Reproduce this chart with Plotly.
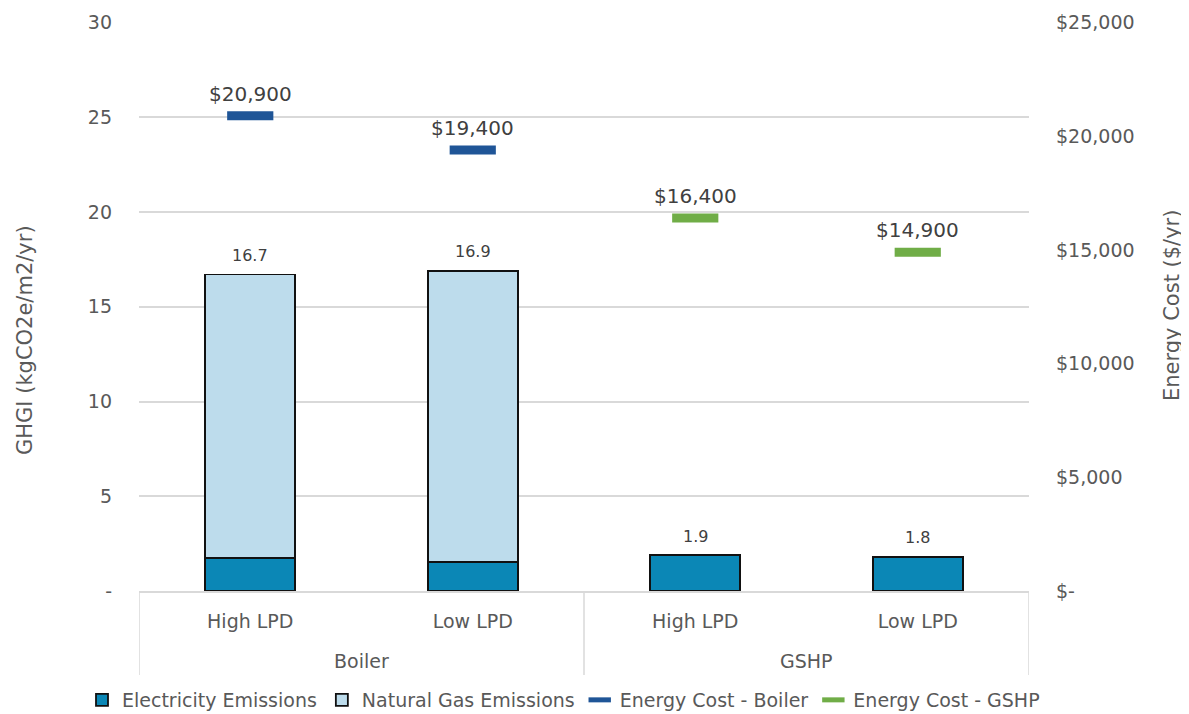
import plotly.graph_objects as go

groups = ["Boiler", "Boiler", "GSHP", "GSHP"]
cases = ["High LPD", "Low LPD", "High LPD", "Low LPD"]
elec = [1.75, 1.55, 1.9, 1.8]
gas = [14.95, 15.35, 0, 0]
cost_boiler = [20900, 19400, None, None]
cost_gshp = [None, None, 16400, 14900]

left_ticks = [0, 5, 10, 15, 20, 25, 30]
left_text = ["-", "5", "10", "15", "20", "25", "30"]
right_ticks = [0, 5000, 10000, 15000, 20000, 25000]
right_text = ["$-", "$5,000", "$10,000", "$15,000", "$20,000", "$25,000"]

FONT = "DejaVu Sans"
GREY = "#595959"
DARK = "#404040"
LINEC = "#d9d9d9"

W, H = 1189, 714
OFF = 8  # page body margin offset
# desired page-pixel plot box
P_LEFT, P_RIGHT, P_TOP, P_BOT = 139, 1029, 22, 591
ML = P_LEFT - OFF
MR = W - (P_RIGHT - OFF)
MT = P_TOP - OFF
MB = H - (P_BOT - OFF)
PW = P_RIGHT - P_LEFT
PH = P_BOT - P_TOP


def py(page_y):
    return (P_BOT - page_y) / PH


def px(page_x):
    return (page_x - P_LEFT) / PW


xs = list(range(len(cases)))
totals = [round(e + g, 1) for e, g in zip(elec, gas)]

fig = go.Figure()
fig.add_trace(go.Bar(x=xs, y=elec, name="Electricity Emissions",
                     marker=dict(color="#0b87b6", line=dict(color="#111111", width=1.8)),
                     width=0.405))
fig.add_trace(go.Bar(x=xs, y=gas, name="Natural Gas Emissions",
                     marker=dict(color="#bddcec", line=dict(color="#111111", width=1.8)),
                     width=0.405))
fig.add_trace(go.Scatter(x=xs, y=cost_boiler, yaxis="y2", mode="markers",
                         name="Energy Cost - Boiler",
                         marker=dict(symbol="line-ew", size=33, color="#1f5597",
                                     line=dict(color="#1f5597", width=9))))
fig.add_trace(go.Scatter(x=xs, y=cost_gshp, yaxis="y2", mode="markers",
                         name="Energy Cost - GSHP",
                         marker=dict(symbol="line-ew", size=33, color="#70ad47",
                                     line=dict(color="#70ad47", width=9))))

annotations = []
for i, t in zip(xs, totals):
    annotations.append(dict(x=i, y=t, xref="x", yref="y", text=f"{t:.1f}", showarrow=False,
                            yanchor="middle", yshift=19,
                            font=dict(family=FONT, size=16, color=DARK)))
for c in (cost_boiler, cost_gshp):
    for i, v in zip(xs, c):
        if v is None:
            continue
        annotations.append(dict(x=i, y=v, xref="x", yref="y2", text=f"${v:,.0f}",
                                showarrow=False, yanchor="middle", yshift=22,
                                font=dict(family=FONT, size=20, color=DARK)))

# group labels and dividers
shapes = []
bounds = [-0.5]
for i in range(1, len(groups)):
    if groups[i] != groups[i - 1]:
        bounds.append(i - 0.5)
bounds.append(len(groups) - 0.5)
for b in bounds:
    shapes.append(dict(type="line", xref="x", yref="paper", x0=b, x1=b, y0=0, y1=py(675),
                       line=dict(color=LINEC, width=1.5)))
for k in range(len(bounds) - 1):
    mid = (bounds[k] + bounds[k + 1]) / 2
    g = groups[int(bounds[k] + 0.5)]
    annotations.append(dict(x=mid, y=py(661), xref="x", yref="paper",
                            text=g, showarrow=False, yanchor="middle",
                            font=dict(family=FONT, size=19, color=GREY)))

# axis titles
annotations.append(dict(x=px(25), y=py(340), xref="paper", yref="paper",
                        text="GHGI (kgCO2e/m2/yr)", textangle=-90,
                        showarrow=False, xanchor="center", yanchor="middle",
                        font=dict(family=FONT, size=21, color=GREY)))
annotations.append(dict(x=px(1172), y=py(306), xref="paper", yref="paper",
                        text="Energy Cost ($/yr)", textangle=-90,
                        showarrow=False, xanchor="center", yanchor="middle",
                        font=dict(family=FONT, size=21, color=GREY)))

fig.update_layout(
    width=W, height=H,
    margin=dict(l=ML, r=MR, t=MT, b=MB, autoexpand=False),
    paper_bgcolor="white", plot_bgcolor="white",
    barmode="stack",
    font=dict(family=FONT, size=19, color=GREY),
    xaxis=dict(range=[-0.5, len(cases) - 0.5], tickvals=xs, ticktext=cases,
               showline=True, linecolor=LINEC, linewidth=1.5, showgrid=False, zeroline=False,
               automargin=False, ticklabelstandoff=12, tickfont=dict(size=19, color=GREY)),
    yaxis=dict(range=[0, 30.03], tickvals=left_ticks, ticktext=left_text,
               showgrid=True, gridcolor=LINEC, gridwidth=1.5, zeroline=False,
               automargin=False, ticklabelstandoff=26, tickfont=dict(size=19, color=GREY)),
    yaxis2=dict(range=[0, 25025], tickvals=right_ticks, ticktext=right_text,
                overlaying="y", side="right", showgrid=False, zeroline=False,
                automargin=False, ticklabelstandoff=26, tickfont=dict(size=19, color=GREY)),
    legend=dict(orientation="h", xref="paper", x=px(82), xanchor="left",
                yref="paper", y=py(700), yanchor="middle",
                traceorder="normal", font=dict(size=19, color=GREY),
                itemwidth=30, tracegroupgap=0),
    showlegend=True,
    annotations=annotations,
    shapes=shapes,
)

fig.write_html("out.html")
